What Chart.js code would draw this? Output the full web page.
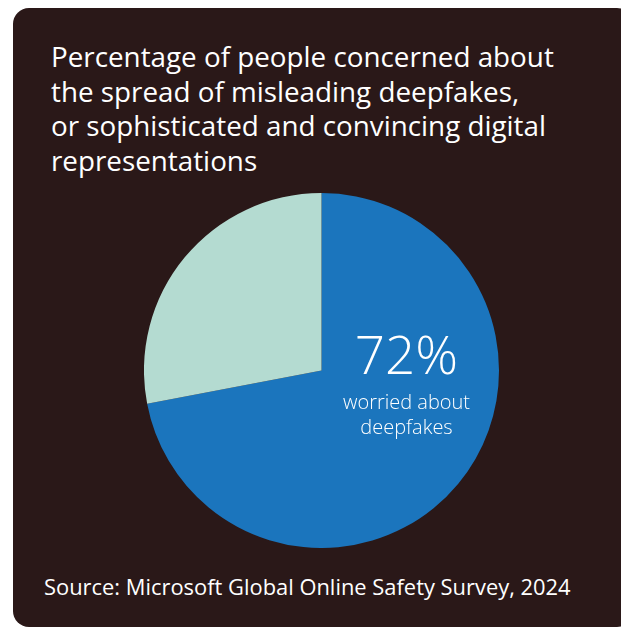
<!DOCTYPE html>
<html>
<head>
<meta charset="utf-8">
<script src="https://cdn.jsdelivr.net/npm/chart.js@4"></script>
<style>
  html, body { margin: 0; padding: 0; background: #ffffff; }
  body { width: 621px; height: 628px; position: relative; overflow: hidden; font-family: "Open Sans", "Noto Sans", sans-serif; }
  .panel { position: absolute; left: 13px; top: 8px; width: 620px; height: 619px; border-radius: 16px; background: #2a1818; }
  .title { position: absolute; left: 51px; top: 39px; margin: 0; color: #ffffff; font-size: 27.8px; line-height: 34.6px; font-weight: 400; white-space: nowrap; }
  .source { position: absolute; left: 44px; top: 573px; margin: 0; color: #ffffff; font-size: 21.9px; line-height: 28px; white-space: nowrap; }
  .chartbox { position: absolute; left: 144px; top: 193px; width: 355px; height: 355px; }
</style>
</head>
<body>
<div class="panel"></div>
<p class="title">Percentage of people concerned about<br>the spread of misleading deepfakes,<br>or sophisticated and convincing digital<br>representations</p>
<div class="chartbox"><canvas id="chart"></canvas></div>
<p class="source">Source: Microsoft Global Online Safety Survey, 2024</p>
<script>
const categories = ['worried about deepfakes', 'not worried'];
const shares = [72, 28];
const colours = ['#1b75bd', '#b4dbd1'];

// big percentage + caption inside the blue slice
const centreLabel = {
  id: 'centreLabel',
  afterDatasetsDraw(chart) {
    const arc = chart.getDatasetMeta(0).data[0];
    const cx = arc.x, cy = arc.y;
    const ctx = chart.ctx;
    ctx.save();
    ctx.fillStyle = '#ffffff';
    ctx.textAlign = 'center';
    ctx.textBaseline = 'alphabetic';
    ctx.font = '300 53px "Open Sans", sans-serif';
    ctx.fillText(shares[0] + '%', cx + 85, cy + 3);
    ctx.font = '300 20px "Open Sans", sans-serif';
    ctx.fillText('worried about', cx + 85, cy + 38);
    ctx.fillText('deepfakes', cx + 85, cy + 63);
    ctx.restore();
  }
};

new Chart(document.getElementById('chart'), {
  type: 'pie',
  data: {
    labels: categories,
    datasets: [{ data: shares, backgroundColor: colours, borderWidth: 0 }]
  },
  options: {
    responsive: true,
    maintainAspectRatio: false,
    animation: false,
    layout: { padding: 0 },
    plugins: { legend: { display: false }, tooltip: { enabled: false } }
  },
  plugins: [centreLabel]
});
</script>
</body>
</html>
